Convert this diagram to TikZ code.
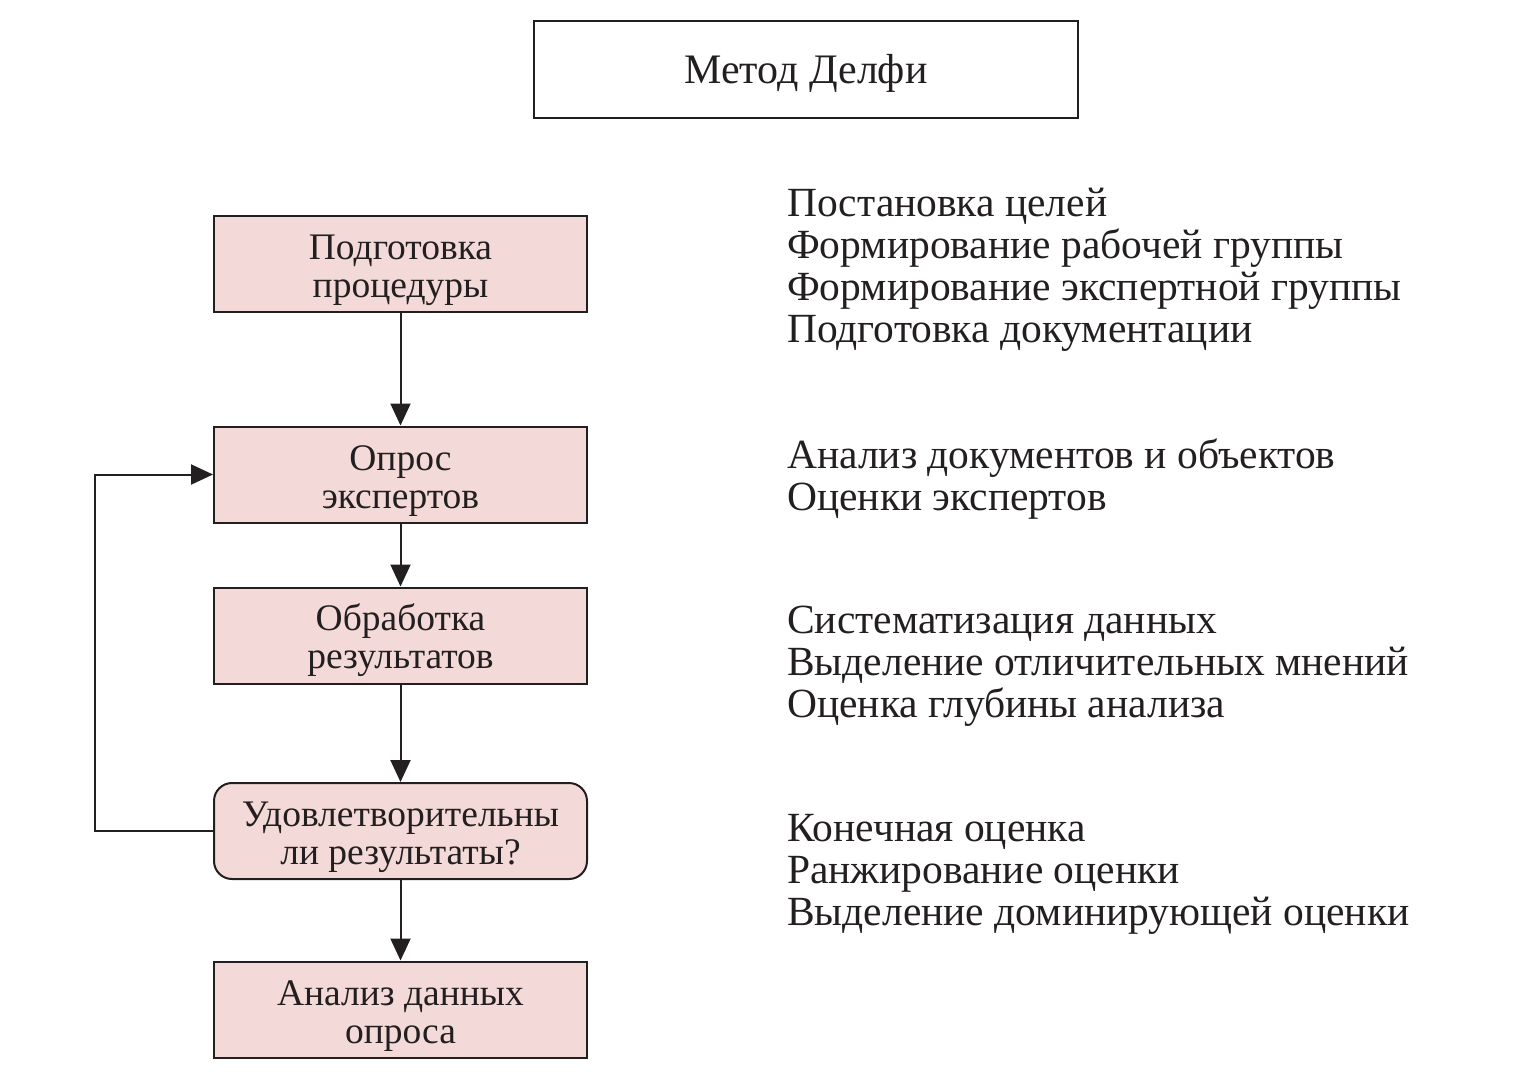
\documentclass[tikz,border=0pt]{standalone}
\usepackage{fontspec}
\setmainfont{Liberation Serif}
\usetikzlibrary{arrows.meta}
\definecolor{boxfill}{HTML}{F3DAD8}
\definecolor{ink}{HTML}{231F20}
\newcommand{\dropline}{\rule{0pt}{37pt}}
\tikzset{
  stagebox/.style={draw=ink, line width=2pt, fill=boxfill, minimum width=373pt, minimum height=96pt, align=center, inner sep=0pt, font=\fontsize{37.5}{38}\selectfont, text=ink},
  titlebox/.style={draw=ink, line width=2pt, minimum width=544pt, minimum height=97pt, align=center, inner sep=0pt, font=\fontsize{42}{44}\selectfont, text=ink},
  notes/.style={anchor=west, align=left, inner sep=0pt, font=\fontsize{41.5}{42}\selectfont, text=ink},
  flow/.style={draw=ink, line width=2pt, -{Triangle[length=22pt,width=20pt]}}
}
\begin{document}
\begin{tikzpicture}[x=1pt,y=-1pt]
\useasboundingbox (0,0) rectangle (1530,1071);
\node[titlebox] (title) at (806,69.5) {\rule{0pt}{37pt}Метод Делфи};
\node[stagebox] (s1) at (400.5,264) {\dropline Подготовка\\процедуры};
\node[stagebox] (s2) at (400.5,474.5) {\dropline Опрос\\экспертов};
\node[stagebox] (s3) at (400.5,635.5) {\dropline Обработка\\результатов};
\node[stagebox, rounded corners=18pt] (s4) at (400.5,831) {\dropline Удовлетворительны\\ли результаты?};
\node[stagebox] (s5) at (400.5,1009.5) {\dropline Анализ данных\\опроса};
\draw[flow] (s1) -- (s2);
\draw[flow] (s2) -- (s3);
\draw[flow] (s3) -- (s4);
\draw[flow] (s4) -- (s5);
\coordinate (lp) at (95,0);
\draw[flow] (s4.west) -- (lp |- s4.west) -- (lp |- s2.west) -- (s2.west);
\node[notes] (n1) at (787,270) {Постановка целей\\Формирование рабочей группы\\Формирование экспертной группы\\Подготовка документации};
\node[notes] (n2) at (787,479) {Анализ документов и объектов\\Оценки экспертов};
\node[notes] (n3) at (787,666) {Систематизация данных\\Выделение отличительных мнений\\Оценка глубины анализа};
\node[notes] (n4) at (787,874) {Конечная оценка\\Ранжирование оценки\\Выделение доминирующей оценки};
\end{tikzpicture}
\end{document}
